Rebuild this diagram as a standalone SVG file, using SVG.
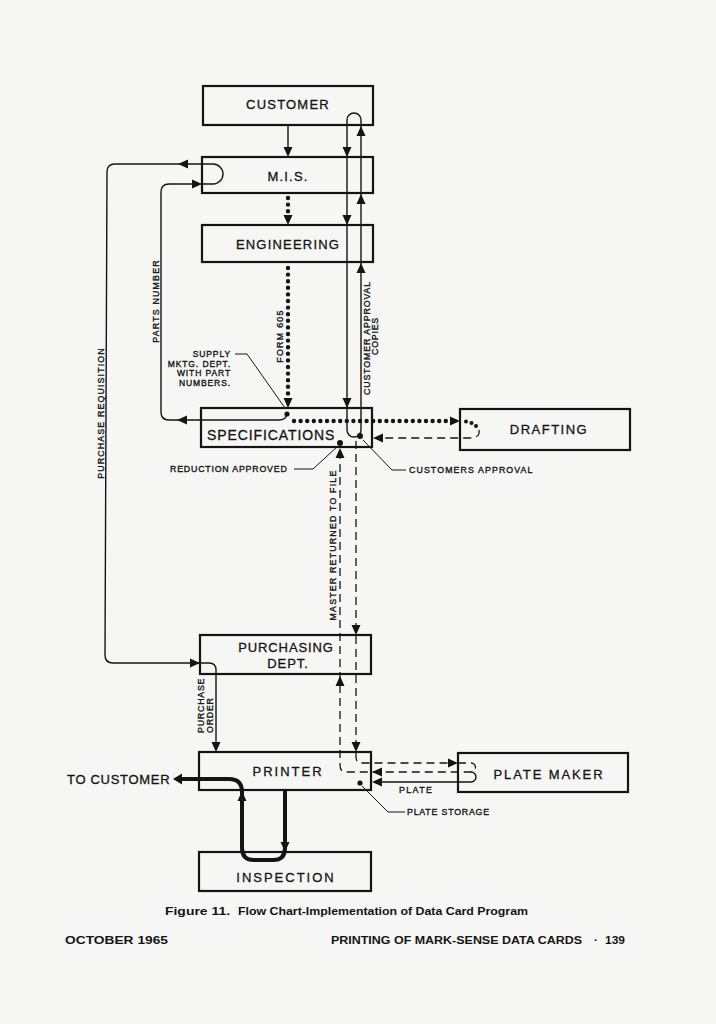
<svg xmlns="http://www.w3.org/2000/svg" xmlns:xlink="http://www.w3.org/1999/xlink" width="716" height="1024" viewBox="0 0 716 1024">
<style>
.box{fill:#f6f6f4;stroke:#141414;stroke-width:2.2}
.t{font-family:"Liberation Sans",Arial,sans-serif;fill:#141414}
.n{font-size:13px;letter-spacing:1.2px;stroke:#141414;stroke-width:0.3}
.s{font-size:8.8px;letter-spacing:1px;stroke:#141414;stroke-width:0.35}
.f{font-size:11.5px;font-weight:bold}
.ln{fill:none;stroke:#141414;stroke-width:1.4}
.dash{fill:none;stroke:#141414;stroke-width:1.3;stroke-dasharray:8 5}
.dot{fill:none;stroke:#141414;stroke-width:4.4;stroke-linecap:round;stroke-dasharray:0 6.6}
.thick{fill:none;stroke:#141414;stroke-width:4}
.ah{fill:#141414}
</style>
<defs>
<path id="ah" d="M0,0 L-4.5,-10 L4.5,-10 Z"/>
</defs>
<rect width="716" height="1024" fill="#f6f6f4"/>

<g id="node-customer"><rect class="box" x="203" y="86" width="170" height="39"/><text class="t n" x="288" y="109" text-anchor="middle">CUSTOMER</text></g>
<g id="node-mis"><rect class="box" x="202" y="157" width="171" height="36"/><text class="t n" x="288" y="181" text-anchor="middle">M.I.S.</text></g>
<g id="node-engineering"><rect class="box" x="202" y="225" width="171" height="37"/><text class="t n" x="288" y="249" text-anchor="middle">ENGINEERING</text></g>
<g id="node-specifications"><rect class="box" x="201" y="408" width="171" height="39"/><text class="t n" x="207" y="440" style="font-size:14px;letter-spacing:0.9px">SPECIFICATIONS</text></g>
<g id="node-drafting"><rect class="box" x="460" y="409" width="170" height="41"/><text class="t n" x="549" y="434" text-anchor="middle" style="letter-spacing:1.5px">DRAFTING</text></g>
<g id="node-purchasing"><rect class="box" x="200" y="635" width="171" height="39"/><text class="t n" x="286" y="652" text-anchor="middle" style="letter-spacing:0.9px">PURCHASING</text><text class="t n" x="288" y="668" text-anchor="middle" style="letter-spacing:0.9px">DEPT.</text></g>
<g id="node-printer"><rect class="box" x="199" y="752" width="172" height="38"/><text class="t n" x="288" y="776" text-anchor="middle" style="letter-spacing:2px">PRINTER</text></g>
<g id="node-platemaker"><rect class="box" x="458" y="753" width="170" height="39"/><text class="t n" x="549" y="779" text-anchor="middle" style="letter-spacing:1.9px">PLATE MAKER</text></g>
<g id="node-inspection"><rect class="box" x="199" y="852" width="172" height="39"/><text class="t n" x="286" y="882" text-anchor="middle" style="letter-spacing:2px">INSPECTION</text></g>

<g id="connectors">
  <!-- customer to MIS -->
  <line class="ln" x1="288" y1="125" x2="288" y2="150"/>
  <use xlink:href="#ah" class="ah" transform="translate(288,157)"/>
  <!-- MIS to engineering dotted -->
  <line class="dot" x1="288" y1="198" x2="288" y2="212"/>
  <use xlink:href="#ah" class="ah" transform="translate(288,225)"/>
  <!-- engineering to specifications dotted (FORM 605) -->
  <line class="dot" x1="288" y1="268" x2="288" y2="396"/>
  <use xlink:href="#ah" class="ah" transform="translate(288,408)"/>
  <circle cx="287" cy="414" r="2.6" class="ah"/>
  <!-- customer approval copies loop -->
  <path class="ln" d="M347,120 L347,430 A7,7 0 0 0 361,430 L361,120 A7,7 0 0 0 347,120"/>
  <use xlink:href="#ah" class="ah" transform="translate(347,157)"/>
  <use xlink:href="#ah" class="ah" transform="translate(347,225)"/>
  <use xlink:href="#ah" class="ah" transform="translate(347,408)"/>
  <use xlink:href="#ah" class="ah" transform="translate(361,126) rotate(180)"/>
  <use xlink:href="#ah" class="ah" transform="translate(361,194) rotate(180)"/>
  <use xlink:href="#ah" class="ah" transform="translate(361,263) rotate(180)"/>
  <circle cx="360" cy="436" r="3" class="ah"/>
  <!-- customers approval leader -->
  <polyline class="ln" points="363,440 392,470 406,470" style="stroke-width:1"/>
  <!-- specifications to drafting dotted -->
  <line class="dot" x1="294" y1="421" x2="449" y2="421"/>
  <use xlink:href="#ah" class="ah" transform="translate(460,421) rotate(-90)"/>
  <circle cx="466" cy="421.5" r="2" class="ah"/>
  <circle cx="471.5" cy="423" r="2" class="ah"/>
  <circle cx="476" cy="426" r="2" class="ah"/>
  <!-- drafting back to specifications dashed -->
  <path class="dash" d="M479,430 C480,435 477,438 470,438 L381,438"/>
  <use xlink:href="#ah" class="ah" transform="translate(373,438) rotate(90)"/>
  <!-- parts number: specifications to MIS -->
  <path class="ln" d="M287,414 Q286,420 279,420 L169,420 Q161,420 161,412 L161,192 Q161,184 169,184 L213,184"/>
  <use xlink:href="#ah" class="ah" transform="translate(177,420) rotate(90)"/>
  <use xlink:href="#ah" class="ah" transform="translate(202,184) rotate(-90)"/>
  <!-- purchase requisition: MIS to purchasing, purchase order to printer -->
  <path class="ln" d="M213,184 A10,10 0 0 0 213,164 L115,164 Q107,164 107,172 L105,655 Q105,663 113,663 L209,663 Q216,663 216,670 L216,745"/>
  <use xlink:href="#ah" class="ah" transform="translate(178,164) rotate(90)"/>
  <use xlink:href="#ah" class="ah" transform="translate(200,663) rotate(-90)"/>
  <use xlink:href="#ah" class="ah" transform="translate(216,752)"/>
  <!-- specifications down to purchasing, printer, plate maker -->
  <path class="dash" d="M356,441 L356,757 Q356,763 362,763 L450,763"/>
  <use xlink:href="#ah" class="ah" transform="translate(356,635)"/>
  <use xlink:href="#ah" class="ah" transform="translate(356,752)"/>
  <use xlink:href="#ah" class="ah" transform="translate(458,763) rotate(-90)"/>
  <!-- plate maker back via printer, master returned to file -->
  <path class="dash" d="M458,763 L471,763 A4.5,4.5 0 0 1 471,772 L346,772 Q340,772 340,765 L340,452"/>
  <use xlink:href="#ah" class="ah" transform="translate(372,772) rotate(90)"/>
  <use xlink:href="#ah" class="ah" transform="translate(340,676) rotate(180)"/>
  <use xlink:href="#ah" class="ah" transform="translate(340,448) rotate(180)"/>
  <circle cx="340" cy="443" r="3" class="ah"/>
  <!-- plate -->
  <path class="ln" d="M471,772 A5,5 0 0 1 471,782 L380,782"/>
  <use xlink:href="#ah" class="ah" transform="translate(372,782) rotate(90)"/>
  <!-- plate storage -->
  <circle cx="360" cy="783" r="2.6" class="ah"/>
  <polyline class="ln" points="362,786 388,812 405,812" style="stroke-width:1"/>
  <!-- supply leader -->
  <polyline class="ln" points="235,354 247,354 285,408" style="stroke-width:1"/>
  <!-- reduction approved leader -->
  <polyline class="ln" points="294,469 313,469 338,446" style="stroke-width:1"/>
  <!-- printer / inspection / to customer -->
  <path class="thick" d="M285,790 L285,848 Q285,860 273,860 L254,860 Q242,860 242,848 L242,792 Q242,779 229,779 L182,779"/>
  <use xlink:href="#ah" class="ah" transform="translate(285,852)"/>
  <use xlink:href="#ah" class="ah" transform="translate(242,791) rotate(180)"/>
  <use xlink:href="#ah" class="ah" transform="translate(173,779) rotate(90) scale(1.2,0.9)"/>
</g>

<g id="labels">
  <text class="t s" x="231" y="357" text-anchor="end" style="font-size:8.5px;letter-spacing:0.9px">SUPPLY</text>
  <text class="t s" x="231" y="367" text-anchor="end" style="font-size:8.5px;letter-spacing:0.9px">MKTG. DEPT.</text>
  <text class="t s" x="231" y="376" text-anchor="end" style="font-size:8.5px;letter-spacing:0.9px">WITH PART</text>
  <text class="t s" x="231" y="386" text-anchor="end" style="font-size:8.5px;letter-spacing:0.9px">NUMBERS.</text>
  <text class="t s" x="170" y="472" style="letter-spacing:0.8px">REDUCTION APPROVED</text>
  <text class="t s" x="409" y="473" style="letter-spacing:1.1px">CUSTOMERS APPROVAL</text>
  <text class="t s" x="399" y="793" style="letter-spacing:1.4px">PLATE</text>
  <text class="t s" x="407" y="815" style="letter-spacing:0.8px">PLATE STORAGE</text>
  <text class="t s" transform="translate(104,413) rotate(-90)" text-anchor="middle" style="letter-spacing:1.15px">PURCHASE REQUISITION</text>
  <text class="t s" transform="translate(159,301) rotate(-90)" text-anchor="middle" style="letter-spacing:1.2px">PARTS NUMBER</text>
  <text class="t s" transform="translate(283,336) rotate(-90)" text-anchor="middle" style="letter-spacing:1.3px">FORM 605</text>
  <text class="t s" transform="translate(370,338) rotate(-90)" text-anchor="middle" style="letter-spacing:0.9px">CUSTOMER APPROVAL</text>
  <text class="t s" transform="translate(378,336) rotate(-90)" text-anchor="middle" style="letter-spacing:0.8px">COPIES</text>
  <text class="t s" transform="translate(336,545) rotate(-90)" text-anchor="middle" style="letter-spacing:1.2px">MASTER RETURNED TO FILE</text>
  <text class="t s" transform="translate(204,733) rotate(-90)" style="letter-spacing:0.8px">PURCHASE</text>
  <text class="t s" transform="translate(213,733) rotate(-90)" style="letter-spacing:0.8px">ORDER</text>
  <text class="t n" x="67" y="784" style="letter-spacing:0.7px">TO CUSTOMER</text>
  <text class="t f" x="165" y="915" textLength="65" lengthAdjust="spacingAndGlyphs">Figure 11.</text>
  <text class="t f" x="238" y="915" textLength="290" lengthAdjust="spacingAndGlyphs">Flow Chart-Implementation of Data Card Program</text>
  <text class="t f" x="65" y="944" textLength="103" lengthAdjust="spacingAndGlyphs">OCTOBER 1965</text>
  <text class="t f" x="331" y="944" textLength="251" lengthAdjust="spacingAndGlyphs">PRINTING OF MARK-SENSE DATA CARDS</text>
  <text class="t f" x="596" y="944" text-anchor="middle">·</text>
  <text class="t f" x="605" y="944" textLength="20" lengthAdjust="spacingAndGlyphs">139</text>
</g>
</svg>
